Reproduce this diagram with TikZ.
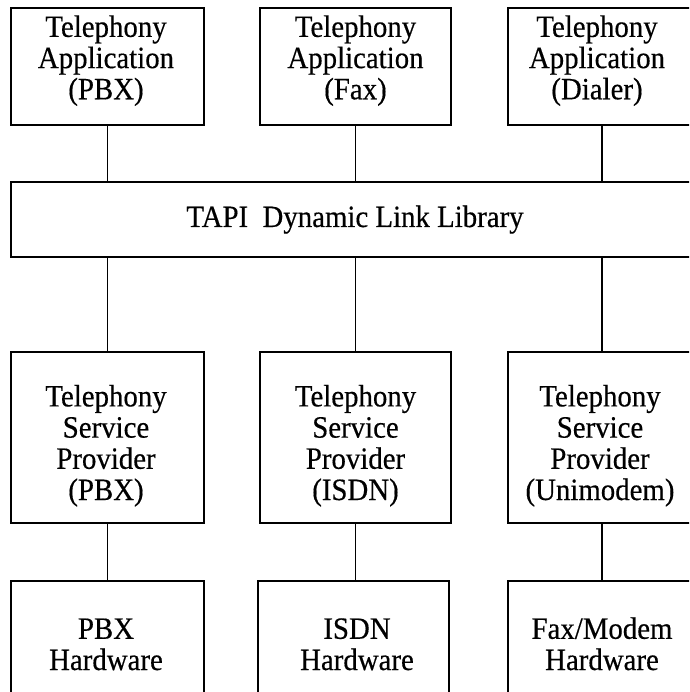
\documentclass[tikz,border=0pt]{standalone}
\usepackage{fontspec}
\setmainfont{Liberation Serif}[FakeStretch=0.93,FakeBold=0.4]
\begin{document}
\begin{tikzpicture}[x=1pt,y=-1pt,
  box/.style={draw, line width=2.2pt, rectangle, inner sep=0pt},
  % text sits on the baseline of its last line
  txt/.style={align=center, inner sep=0pt, anchor=base,
    font=\fontsize{31}{31.2}\selectfont},
  link/.style={line width=1.9pt}]
\useasboundingbox (0,0) rectangle (689,692);
\clip (0,0) rectangle (689,692);

% applications
\node[box, minimum width=193pt, minimum height=117pt] (appA) at (107.5,66.5) {};
\node[box, minimum width=191pt, minimum height=117pt] (appB) at (355.5,66.5) {};
\node[box, minimum width=188pt, minimum height=117pt] (appC) at (602,66.5) {};
\node[txt] (appAt) at (106,99.3) {Telephony\\Application\\(PBX)};
\node[txt] (appBt) at (355.5,99.3) {Telephony\\Application\\(Fax)};
\node[txt] (appCt) at (597,99.3) {Telephony\\Application\\(Dialer)};

% TAPI layer
\node[box, minimum width=689pt, minimum height=75pt] (tapi) at (355.5,219.5) {};
\node[txt] (tapit) at (355,227) {TAPI\ \ Dynamic Link Library};

% service providers
\node[box, minimum width=193pt, minimum height=171pt] (spA) at (107.5,437.5) {};
\node[box, minimum width=191pt, minimum height=171pt] (spB) at (355.5,437.5) {};
\node[box, minimum width=188pt, minimum height=171pt] (spC) at (602,437.5) {};
\node[txt] (spAt) at (106,500) {Telephony\\Service\\Provider\\(PBX)};
\node[txt] (spBt) at (355.5,500) {Telephony\\Service\\Provider\\(ISDN)};
\node[txt] (spCt) at (600,500) {Telephony\\Service\\Provider\\(Unimodem)};

% hardware
\node[box, minimum width=193pt, minimum height=124pt] (hwA) at (107.5,643) {};
\node[box, minimum width=191pt, minimum height=124pt] (hwB) at (353.5,643) {};
\node[box, minimum width=188pt, minimum height=124pt] (hwC) at (602,643) {};
\node[txt] (hwAt) at (106,670) {PBX\\Hardware};
\node[txt] (hwBt) at (357,670) {ISDN\\Hardware};
\node[txt] (hwCt) at (602,670) {Fax/Modem\\Hardware};

% connectors
\foreach \n in {A,B,C}{
  \draw[link] (app\n.south) -- (app\n.south |- tapi.north);
  \draw[link] (tapi.south -| sp\n.north) -- (sp\n.north);
  \draw[link] (sp\n.south) -- (sp\n.south |- hw\n.north);
}
\end{tikzpicture}
\end{document}
